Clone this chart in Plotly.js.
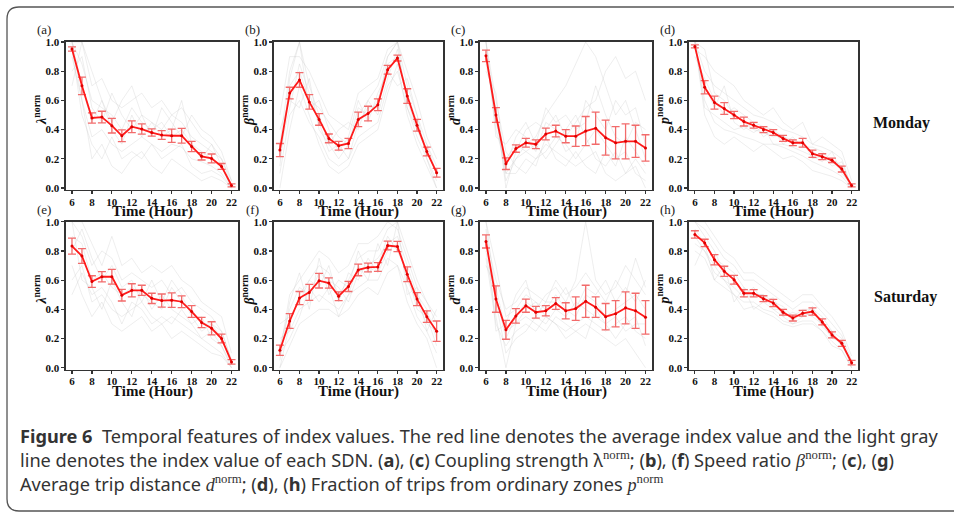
<!DOCTYPE html>
<html>
<head>
<meta charset="utf-8">
<script src="https://cdn.plot.ly/plotly-3.0.1.min.js"></script>
<style>
html,body{margin:0;padding:0;background:#fff;}
#chart{width:954px;height:515px;}
</style>
</head>
<body>
<div id="chart"></div>
<script>
// ---------------- DATA ----------------
const hours = [6,7,8,9,10,11,12,13,14,15,16,17,18,19,20,21,22];
const panelLabels = ['(a)','(b)','(c)','(d)','(e)','(f)','(g)','(h)'];
const dayLabels = ['Monday','Saturday'];
const xTickVals = [6,8,10,12,14,16,18,20,22];
const xTickText = ['6','8','10','12','14','16','18','20','22'];
const yTickVals = [0,0.2,0.4,0.6,0.8,1.0];
const yTickText = ['0.0','0.2','0.4','0.6','0.8','1.0'];

// Monday means and error bars
const monLambda    = [0.952,0.70,0.48,0.486,0.427,0.358,0.42,0.404,0.38,0.363,0.358,0.358,0.285,0.217,0.203,0.148,0.018];
const monLambdaErr = [0.015,0.06,0.035,0.04,0.05,0.04,0.04,0.035,0.025,0.03,0.045,0.05,0.035,0.025,0.03,0.02,0.01];
const monBeta      = [0.26,0.65,0.74,0.59,0.47,0.34,0.29,0.305,0.47,0.51,0.57,0.81,0.89,0.63,0.43,0.25,0.105];
const monBetaErr   = [0.045,0.04,0.05,0.05,0.04,0.03,0.03,0.035,0.05,0.05,0.04,0.03,0.02,0.05,0.04,0.03,0.03];
const monDist      = [0.905,0.50,0.167,0.27,0.31,0.30,0.37,0.39,0.355,0.355,0.39,0.41,0.345,0.31,0.32,0.32,0.275];
const monDistErr   = [0.04,0.05,0.04,0.025,0.03,0.03,0.04,0.04,0.045,0.07,0.10,0.11,0.12,0.11,0.12,0.11,0.09];
const monFrac      = [0.97,0.69,0.585,0.545,0.50,0.455,0.43,0.40,0.38,0.34,0.31,0.31,0.235,0.215,0.19,0.13,0.018];
const monFracErr   = [0.01,0.045,0.045,0.04,0.025,0.03,0.02,0.02,0.02,0.02,0.02,0.03,0.025,0.02,0.015,0.02,0.01];
// Saturday means and error bars
const satLambda    = [0.833,0.765,0.59,0.623,0.623,0.497,0.53,0.53,0.475,0.46,0.463,0.452,0.385,0.31,0.27,0.20,0.04];
const satLambdaErr = [0.055,0.05,0.04,0.035,0.05,0.04,0.045,0.035,0.035,0.045,0.05,0.04,0.04,0.035,0.045,0.03,0.015];
const satBeta      = [0.12,0.32,0.477,0.516,0.596,0.58,0.49,0.557,0.67,0.687,0.69,0.837,0.83,0.64,0.47,0.35,0.25];
const satBetaErr   = [0.035,0.05,0.045,0.055,0.05,0.035,0.03,0.035,0.04,0.03,0.03,0.03,0.035,0.05,0.045,0.04,0.07];
const satDist      = [0.865,0.47,0.26,0.355,0.425,0.38,0.39,0.44,0.39,0.405,0.455,0.415,0.35,0.37,0.41,0.39,0.345];
const satDistErr   = [0.045,0.09,0.065,0.05,0.045,0.04,0.035,0.04,0.055,0.08,0.11,0.07,0.09,0.09,0.11,0.12,0.115];
const satFrac      = [0.913,0.855,0.74,0.66,0.603,0.51,0.51,0.473,0.443,0.38,0.34,0.373,0.385,0.314,0.225,0.167,0.035];
const satFracErr   = [0.025,0.025,0.035,0.035,0.03,0.025,0.025,0.02,0.025,0.02,0.02,0.02,0.025,0.02,0.02,0.02,0.015];

// Individual SDN lines (a sample)
const grayMonLambda = [
 [1.0,0.85,0.6,0.55,0.5,0.4,0.55,0.45,0.4,0.45,0.35,0.4,0.3,0.25,0.2,0.15,0.0],
 [0.9,0.6,0.35,0.4,0.3,0.25,0.3,0.35,0.3,0.25,0.3,0.28,0.2,0.18,0.15,0.1,0.0],
 [1.0,1.0,0.7,0.75,0.6,0.55,0.6,0.65,0.55,0.6,0.5,0.55,0.45,0.35,0.3,0.2,0.05],
 [0.95,0.5,0.3,0.2,0.35,0.2,0.25,0.2,0.3,0.2,0.25,0.3,0.15,0.1,0.12,0.08,0.0],
 [0.8,0.9,0.55,0.45,0.65,0.5,0.4,0.5,0.45,0.4,0.5,0.45,0.35,0.3,0.25,0.2,0.02],
 [1.0,0.7,0.45,0.6,0.4,0.3,0.5,0.35,0.45,0.35,0.4,0.6,0.3,0.2,0.3,0.15,0.0],
 [0.7,1.0,0.8,0.6,0.45,0.6,0.7,0.5,0.35,0.55,0.45,0.35,0.5,0.4,0.35,0.25,0.05],
 [1.0,0.6,0.2,0.3,0.15,0.1,0.2,0.25,0.15,0.1,0.2,0.15,0.1,0.05,0.08,0.05,0.0]];
const grayMonBeta = [
 [0.3,0.8,1.0,0.7,0.5,0.3,0.2,0.3,0.5,0.6,0.7,0.9,1.0,0.7,0.5,0.3,0.1],
 [0.1,0.5,0.6,0.45,0.35,0.2,0.15,0.2,0.35,0.4,0.45,0.7,0.8,0.55,0.35,0.2,0.0],
 [0.5,0.9,0.9,0.8,0.65,0.5,0.45,0.4,0.65,0.7,0.75,0.95,1.0,0.8,0.6,0.35,0.2],
 [0.0,0.4,0.7,0.5,0.3,0.15,0.1,0.15,0.3,0.35,0.4,0.65,0.85,0.5,0.3,0.15,0.0],
 [0.2,0.7,0.8,0.6,0.55,0.45,0.35,0.3,0.55,0.5,0.6,0.85,0.9,0.65,0.45,0.25,0.1],
 [0.4,0.6,0.55,0.75,0.4,0.3,0.4,0.45,0.4,0.6,0.5,0.75,0.95,0.6,0.4,0.3,0.15],
 [0.15,0.75,1.0,0.55,0.6,0.4,0.25,0.35,0.6,0.45,0.65,0.8,0.7,0.75,0.5,0.2,0.05],
 [0.25,0.55,0.85,0.65,0.45,0.25,0.3,0.2,0.45,0.55,0.55,0.9,1.0,0.55,0.4,0.25,0.1]];
const grayMonDist = [
 [1.0,0.5,0.1,0.2,0.3,0.35,0.5,0.6,0.7,0.85,1.0,0.9,0.7,0.5,0.6,0.4,0.2],
 [0.9,0.45,0.2,0.3,0.25,0.2,0.3,0.25,0.2,0.15,0.2,0.25,0.1,0.05,0.1,0.15,0.0],
 [0.85,0.55,0.0,0.25,0.4,0.45,0.4,0.5,0.35,0.45,0.55,0.6,0.8,0.9,0.75,0.8,0.6],
 [1.0,0.6,0.25,0.15,0.1,0.2,0.25,0.35,0.3,0.2,0.3,0.4,0.3,0.2,0.25,0.1,0.05],
 [0.95,0.4,0.15,0.35,0.45,0.3,0.55,0.45,0.5,0.4,0.45,0.7,0.5,0.35,0.3,0.45,0.4],
 [0.9,0.5,0.05,0.2,0.25,0.3,0.2,0.3,0.4,0.5,0.35,0.2,0.15,0.25,0.1,0.2,0.1],
 [1.0,0.35,0.3,0.4,0.35,0.25,0.45,0.4,0.25,0.3,0.6,0.5,0.4,0.6,0.5,0.55,0.3],
 [0.8,0.65,0.1,0.1,0.2,0.15,0.35,0.2,0.15,0.25,0.15,0.1,0.25,0.15,0.35,0.25,0.15]];
const grayMonFrac = [
 [1.0,0.8,0.7,0.65,0.6,0.55,0.5,0.48,0.45,0.4,0.38,0.35,0.3,0.28,0.25,0.2,0.0],
 [1.0,0.6,0.45,0.4,0.38,0.35,0.33,0.3,0.3,0.28,0.25,0.22,0.18,0.15,0.12,0.08,0.0],
 [0.95,0.9,0.8,0.75,0.7,0.6,0.55,0.5,0.55,0.45,0.4,0.45,0.3,0.35,0.3,0.25,0.05],
 [1.0,0.5,0.35,0.3,0.35,0.3,0.25,0.3,0.25,0.2,0.22,0.18,0.12,0.1,0.08,0.05,0.0],
 [0.9,0.75,0.6,0.5,0.55,0.5,0.45,0.42,0.4,0.35,0.33,0.3,0.25,0.2,0.2,0.15,0.02],
 [1.0,0.95,0.65,0.6,0.5,0.45,0.4,0.38,0.35,0.36,0.3,0.32,0.2,0.22,0.15,0.18,0.0],
 [0.98,0.7,0.55,0.7,0.45,0.4,0.45,0.35,0.4,0.3,0.28,0.25,0.22,0.18,0.25,0.1,0.02],
 [1.0,0.55,0.5,0.45,0.4,0.42,0.38,0.42,0.3,0.3,0.35,0.28,0.28,0.25,0.18,0.12,0.0]];
const graySatLambda = [
 [1.0,0.9,0.7,0.8,0.75,0.6,0.65,0.6,0.55,0.6,0.5,0.55,0.45,0.4,0.35,0.25,0.05],
 [0.6,0.7,0.45,0.5,0.4,0.35,0.4,0.45,0.35,0.3,0.35,0.3,0.25,0.2,0.15,0.1,0.0],
 [1.0,1.0,0.85,0.7,0.9,0.7,0.75,0.65,0.7,0.65,0.7,0.6,0.55,0.45,0.4,0.35,0.1],
 [0.7,0.5,0.35,0.45,0.3,0.25,0.3,0.35,0.25,0.3,0.2,0.25,0.2,0.15,0.1,0.08,0.0],
 [0.9,0.85,0.6,0.65,0.55,0.5,0.55,0.5,0.45,0.4,0.55,0.45,0.4,0.3,0.3,0.2,0.05],
 [1.0,0.6,0.55,0.4,0.6,0.45,0.35,0.55,0.4,0.5,0.4,0.35,0.3,0.35,0.2,0.15,0.02],
 [0.8,0.95,0.75,0.6,0.7,0.55,0.6,0.45,0.6,0.45,0.6,0.5,0.35,0.25,0.3,0.25,0.05],
 [0.5,0.65,0.5,0.55,0.45,0.3,0.45,0.4,0.3,0.35,0.3,0.4,0.3,0.2,0.25,0.15,0.0]];
const graySatBeta = [
 [0.0,0.3,0.5,0.6,0.7,0.65,0.5,0.6,0.75,0.8,0.8,0.95,1.0,0.8,0.6,0.45,0.3],
 [0.2,0.25,0.4,0.45,0.5,0.45,0.4,0.5,0.55,0.6,0.6,0.75,0.7,0.55,0.35,0.25,0.1],
 [0.1,0.5,0.6,0.7,0.8,0.75,0.65,0.7,0.85,0.85,0.9,1.0,0.95,0.75,0.55,0.45,0.35],
 [0.0,0.15,0.3,0.35,0.4,0.4,0.35,0.4,0.5,0.55,0.5,0.65,0.7,0.45,0.3,0.2,0.0],
 [0.15,0.4,0.55,0.5,0.65,0.6,0.55,0.45,0.65,0.7,0.75,0.85,0.9,0.7,0.5,0.4,0.2],
 [0.3,0.35,0.45,0.6,0.55,0.7,0.45,0.65,0.6,0.75,0.65,0.8,0.85,0.6,0.45,0.3,0.25],
 [0.05,0.45,0.65,0.4,0.75,0.5,0.6,0.55,0.8,0.65,0.7,0.9,0.8,0.65,0.4,0.35,0.15],
 [0.1,0.2,0.35,0.55,0.45,0.55,0.35,0.5,0.7,0.6,0.85,0.7,1.0,0.5,0.55,0.25,0.4]];
const graySatDist = [
 [1.0,0.5,0.2,0.35,0.45,0.4,0.5,0.55,0.45,0.6,1.0,0.6,0.5,0.55,0.7,0.6,0.5],
 [0.8,0.35,0.0,0.3,0.35,0.3,0.25,0.35,0.3,0.25,0.3,0.25,0.2,0.15,0.2,0.1,0.0],
 [0.9,0.6,0.4,0.45,0.55,0.5,0.45,0.6,0.5,0.55,0.65,0.55,0.45,0.6,0.5,0.75,0.55],
 [0.75,0.3,0.15,0.25,0.3,0.25,0.35,0.3,0.25,0.3,0.35,0.3,0.25,0.3,0.35,0.25,0.2],
 [1.0,0.7,0.35,0.4,0.5,0.45,0.4,0.5,0.4,0.35,0.5,0.45,0.35,0.4,0.45,0.5,0.4],
 [0.85,0.45,0.1,0.2,0.25,0.35,0.3,0.4,0.35,0.45,0.4,0.35,0.3,0.2,0.3,0.35,0.15],
 [0.95,0.25,0.3,0.5,0.6,0.35,0.45,0.45,0.55,0.4,0.55,0.5,0.6,0.45,0.55,0.45,0.6],
 [0.7,0.55,0.25,0.3,0.4,0.45,0.35,0.3,0.2,0.25,0.2,0.4,0.3,0.35,0.25,0.3,0.3]];
const graySatFrac = [
 [1.0,0.95,0.85,0.75,0.7,0.6,0.6,0.55,0.5,0.45,0.4,0.45,0.45,0.38,0.3,0.22,0.05],
 [0.8,0.75,0.6,0.55,0.5,0.4,0.42,0.38,0.35,0.3,0.28,0.3,0.3,0.25,0.18,0.12,0.0],
 [1.0,1.0,0.9,0.8,0.75,0.65,0.65,0.6,0.55,0.5,0.45,0.5,0.5,0.42,0.35,0.25,0.08],
 [0.85,0.8,0.65,0.6,0.5,0.45,0.45,0.4,0.38,0.32,0.3,0.32,0.32,0.25,0.15,0.12,0.0],
 [0.95,0.85,0.75,0.7,0.65,0.55,0.5,0.5,0.45,0.42,0.35,0.4,0.4,0.35,0.25,0.2,0.02],
 [1.0,0.9,0.8,0.65,0.6,0.5,0.55,0.45,0.48,0.35,0.38,0.35,0.42,0.28,0.22,0.15,0.05],
 [0.9,0.8,0.7,0.6,0.55,0.48,0.5,0.5,0.4,0.4,0.32,0.38,0.35,0.3,0.2,0.18,0.0],
 [0.7,0.85,0.6,0.7,0.45,0.55,0.4,0.45,0.4,0.35,0.3,0.35,0.38,0.3,0.25,0.15,0.03]];

const yTitles = ['λ','β','d','p'];

// ---------------- BUILD ----------------
const W = 954, H = 515;
const fx = p => p / W;
const fy = p => 1 - p / H;

const panels = [
  {mean: monLambda, err: monLambdaErr, gray: grayMonLambda},
  {mean: monBeta,   err: monBetaErr,   gray: grayMonBeta},
  {mean: monDist,   err: monDistErr,   gray: grayMonDist},
  {mean: monFrac,   err: monFracErr,   gray: grayMonFrac},
  {mean: satLambda, err: satLambdaErr, gray: graySatLambda},
  {mean: satBeta,   err: satBetaErr,   gray: graySatBeta},
  {mean: satDist,   err: satDistErr,   gray: graySatDist},
  {mean: satFrac,   err: satFracErr,   gray: graySatFrac}
];

const colsPx = [[66,238],[274,443],[480,652],[689,858]];
const rowsPx = [[42,189.8],[221.7,369.5]];

const serif = 'Liberation Serif, Times New Roman, serif';
const traces = [];
const layout = {
  width: W, height: H,
  margin: {l:0, r:0, t:0, b:0},
  paper_bgcolor: '#fff', plot_bgcolor: '#fff',
  showlegend: false,
  annotations: [],
  shapes: []
};

panels.forEach((p, i) => {
  const col = i % 4, row = Math.floor(i / 4);
  const suf = i === 0 ? '' : String(i + 1);
  const xa = 'x' + suf, ya = 'y' + suf;
  p.gray.forEach(g => {
    traces.push({x: hours, y: g, xaxis: xa, yaxis: ya, type: 'scatter', mode: 'lines',
      line: {color: 'rgba(200,200,200,0.38)', width: 0.8}, hoverinfo: 'skip'});
  });
  traces.push({x: hours, y: p.mean, xaxis: xa, yaxis: ya, type: 'scatter', mode: 'lines+markers',
    line: {color: '#ff1a1a', width: 1.8}, marker: {size: 3, color: '#e00000'},
    error_y: {type: 'data', array: p.err, visible: true, color: '#f26b6b', thickness: 1.3, width: 4},
    hoverinfo: 'skip'});

  const [x0, x1] = colsPx[col];
  const [y0, y1] = rowsPx[row];
  layout['xaxis' + suf] = {
    domain: [fx(x0), fx(x1)], anchor: ya, range: [5.4, 22.65],
    tickmode: 'array', tickvals: xTickVals, ticktext: xTickText,
    ticks: 'outside', ticklen: 3, tickwidth: 1.2, tickcolor: '#333',
    ticklabelstandoff: -2,
    showline: true, linecolor: '#333', linewidth: 1.6, mirror: true,
    showgrid: false, zeroline: false,
    tickfont: {family: serif, size: 11, color: '#111', weight: 'bold'}
  };
  layout['yaxis' + suf] = {
    domain: [fy(y1), fy(y0)], anchor: xa, range: [-0.012, 1.0],
    tickmode: 'array', tickvals: yTickVals, ticktext: yTickText,
    ticks: 'outside', ticklen: 3, tickwidth: 1.2, tickcolor: '#333',
    showline: true, linecolor: '#333', linewidth: 1.6, mirror: true,
    showgrid: false, zeroline: false,
    tickfont: {family: serif, size: 11, color: '#111', weight: 'bold'}
  };

  // panel label
  layout.annotations.push({text: panelLabels[i], xref: 'paper', yref: 'paper',
    x: fx(x0 - 22), y: fy(y0 - 12), xanchor: 'center', yanchor: 'middle', showarrow: false,
    font: {family: serif, size: 13, color: '#222'}});
  // y title
  layout.annotations.push({
    text: '<b><i>' + yTitles[col] + '</i></b><sup><b>norm</b></sup>',
    xref: 'paper', yref: 'paper', x: fx(x0 - 26), y: fy((y0 + y1) / 2 - 6),
    xanchor: 'center', yanchor: 'middle', textangle: -90, showarrow: false,
    font: {family: serif, size: 14, color: '#111'}});
  // x title
  layout.annotations.push({text: '<b>Time (Hour)</b>', xref: 'paper', yref: 'paper',
    x: fx((x0 + x1) / 2), y: fy(y1 + 22), xanchor: 'center', yanchor: 'middle', showarrow: false,
    font: {family: serif, size: 15, color: '#111'}});
});

// day labels
layout.annotations.push({text: '<b>' + dayLabels[0] + '</b>', xref: 'paper', yref: 'paper',
  x: fx(901), y: fy(123), xanchor: 'center', yanchor: 'middle', showarrow: false,
  font: {family: serif, size: 16, color: '#111'}});
layout.annotations.push({text: '<b>' + dayLabels[1] + '</b>', xref: 'paper', yref: 'paper',
  x: fx(905), y: fy(297), xanchor: 'center', yanchor: 'middle', showarrow: false,
  font: {family: serif, size: 16, color: '#111'}});

// caption
const sf = s => '<span style="font-family:Liberation Serif">' + s + '</span>';
const capLines = [
  '<b>Figure 6</b>\u00a0\u00a0Temporal features of index values. The red line denotes the average index value and the light gray',
  'line denotes the index value of each SDN. (<b>a</b>), (<b>c</b>) Coupling strength λ<sup>' + sf('norm') + '</sup>; (<b>b</b>), (<b>f</b>) Speed ratio ' + sf('<i>β</i>') + '<sup>' + sf('norm') + '</sup>; (<b>c</b>), (<b>g</b>)',
  'Average trip distance ' + sf('<i>d</i>') + '<sup>' + sf('norm') + '</sup>; (<b>d</b>), (<b>h</b>) Fraction of trips from ordinary zones ' + sf('<i>p</i>') + '<sup>' + sf('norm') + '</sup>'
];
const capY = [436, 460, 484];
capLines.forEach((t, k) => {
  layout.annotations.push({text: t, xref: 'paper', yref: 'paper', x: fx(18), y: fy(capY[k]),
    xanchor: 'left', yanchor: 'middle', showarrow: false,
    font: {family: 'Noto Sans, Open Sans, sans-serif', size: 18.2, color: '#333'}});
});

// outer rounded frame
const P = (x, y) => fx(x).toFixed(5) + ',' + fy(y).toFixed(5);
layout.shapes.push({type: 'path', xref: 'paper', yref: 'paper',
  path: 'M' + P(970, 7) + ' L' + P(19, 7) + ' Q' + P(7, 7) + ' ' + P(7, 19) +
        ' L' + P(7, 499) + ' Q' + P(7, 511) + ' ' + P(19, 511) + ' L' + P(970, 511),
  line: {color: '#555', width: 1.3}});

Plotly.newPlot('chart', traces, layout, {staticPlot: true, displayModeBar: false});
</script>
</body>
</html>
